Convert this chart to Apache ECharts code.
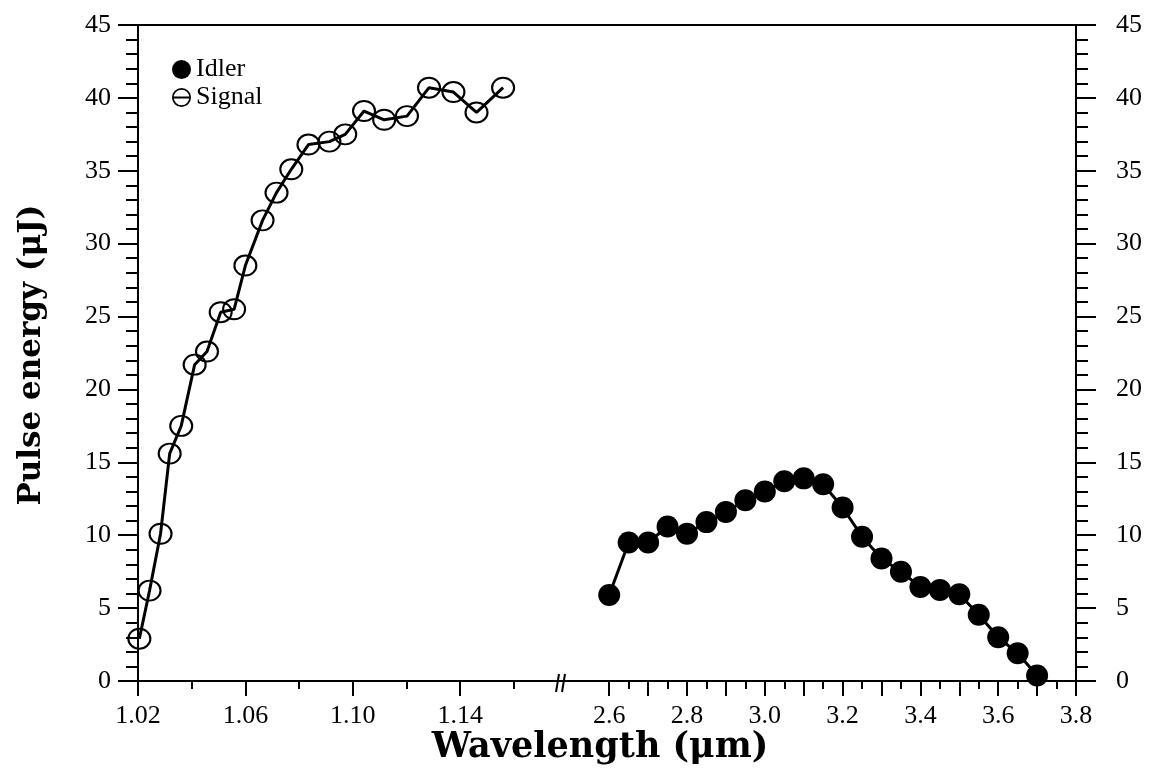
<!DOCTYPE html>
<html>
<head>
<meta charset="utf-8">
<script src="https://cdn.jsdelivr.net/npm/echarts@6/dist/echarts.min.js"></script>
<style>
html,body{margin:0;padding:0;background:#fff;}
#chart{width:1153px;height:776px;}
</style>
</head>
<body>
<div id="chart"></div>
<script>
// ---- data ----
const signalWavelength = [1.0205, 1.0243, 1.0284, 1.0318, 1.0361, 1.0411, 1.0457, 1.0508, 1.0558, 1.0600, 1.0664, 1.0716, 1.0771, 1.0835, 1.0913, 1.0972, 1.1042, 1.1117, 1.1202, 1.1284, 1.1375, 1.1461, 1.1560];
const signalEnergy     = [2.9, 6.2, 10.1, 15.6, 17.5, 21.7, 22.6, 25.3, 25.5, 28.5, 31.6, 33.5, 35.1, 36.8, 37.0, 37.5, 39.1, 38.5, 38.75, 40.7, 40.4, 39.0, 40.7];
const idlerWavelength  = [2.60, 2.65, 2.70, 2.75, 2.80, 2.85, 2.90, 2.95, 3.00, 3.05, 3.10, 3.15, 3.20, 3.25, 3.30, 3.35, 3.40, 3.45, 3.50, 3.55, 3.60, 3.65, 3.70];
const idlerEnergy      = [5.9, 9.5, 9.5, 10.6, 10.1, 10.9, 11.6, 12.4, 13.0, 13.7, 13.9, 13.5, 11.9, 9.9, 8.4, 7.5, 6.45, 6.25, 5.95, 4.55, 3.0, 1.9, 0.38];
const leftMajorTicks   = [1.02, 1.06, 1.10, 1.14];
const leftMinorTicks   = [1.04, 1.08, 1.12, 1.16];
const rightMajorTicks  = [2.6, 2.7, 2.8, 2.9, 3.0, 3.1, 3.2, 3.3, 3.4, 3.5, 3.6, 3.7, 3.8];
const rightMinorTicks  = [2.65, 2.75, 2.85, 2.95, 3.05, 3.15, 3.25, 3.35, 3.45, 3.55, 3.65, 3.75];
const rightLabels      = [2.6, 2.8, 3.0, 3.2, 3.4, 3.6, 3.8];
const xTitle = 'Wavelength (μm)';
const yTitle = 'Pulse energy (μJ)';

const FONT = 'Liberation Serif';
const BLACK = '#000';

const chart = echarts.init(document.getElementById('chart'), null, {renderer: 'canvas'});

function bottomAxis(grid, min, max, major, labels, digits) {
  return {
    gridIndex: grid, type: 'value', position: 'bottom', min: min, max: max,
    axisLine: {show: true, onZero: false, lineStyle: {color: BLACK, width: 2}},
    axisTick: {show: true, inside: false, length: 15, customValues: major, lineStyle: {color: BLACK, width: 2}},
    axisLabel: {show: true, customValues: labels, margin: 22, fontSize: 26, fontFamily: FONT, color: BLACK,
      formatter: v => Number(v).toFixed(digits)},
    splitLine: {show: false}
  };
}
function minorAxis(grid, min, max, minor) {
  return {
    gridIndex: grid, type: 'value', position: 'bottom', min: min, max: max,
    axisLine: {show: false, onZero: false},
    axisTick: {show: true, inside: false, length: 8, customValues: minor, lineStyle: {color: BLACK, width: 2}},
    axisLabel: {show: false},
    splitLine: {show: false}
  };
}
function topAxis(grid, min, max) {
  return {
    gridIndex: grid, type: 'value', position: 'top', min: min, max: max,
    axisLine: {show: true, onZero: false, lineStyle: {color: BLACK, width: 2}},
    axisTick: {show: false}, axisLabel: {show: false}, splitLine: {show: false}
  };
}
function yAxis(grid, pos, margin) {
  return {
    gridIndex: grid, type: 'value', position: pos, min: 0, max: 45, interval: 5,
    axisLine: {show: true, onZero: false, lineStyle: {color: BLACK, width: 2}},
    axisTick: {show: true, inside: false, length: 20, lineStyle: {color: BLACK, width: 2}},
    minorTick: {show: true, splitNumber: 5, length: 12, lineStyle: {color: BLACK, width: 2}},
    axisLabel: {show: true, margin: margin, fontSize: 26, fontFamily: FONT, color: BLACK},
    splitLine: {show: false}, minorSplitLine: {show: false}
  };
}

const gridTop = 25, gridHeight = 656;
const g1Left = 138, g1Width = 422;
const g2Left = 560, g2Width = 516;
const leftMin = 1.02, leftMax = 1.1772;
const rightMin = 2.4735, rightMax = 3.8;

const signalIcon = 'path://M10,0 A10,10 0 1,1 9.99,0 Z M10,1.8 A8.2,8.2 0 1,0 10.01,1.8 Z M1.5,9 L18.5,9 L18.5,11 L1.5,11 Z';

const option = {
  animation: false,
  backgroundColor: '#fff',
  grid: [
    {left: g1Left, top: gridTop, width: g1Width, height: gridHeight},
    {left: g2Left, top: gridTop, width: g2Width, height: gridHeight}
  ],
  xAxis: [
    bottomAxis(0, leftMin, leftMax, leftMajorTicks, leftMajorTicks, 2),
    minorAxis(0, leftMin, leftMax, leftMinorTicks),
    topAxis(0, leftMin, leftMax),
    bottomAxis(1, rightMin, rightMax, rightMajorTicks, rightLabels, 1),
    minorAxis(1, rightMin, rightMax, rightMinorTicks),
    topAxis(1, rightMin, rightMax)
  ],
  yAxis: [
    yAxis(0, 'left', 27),
    yAxis(1, 'right', 40)
  ],
  legend: {
    orient: 'vertical', left: 172, top: 56, padding: 0,
    itemWidth: 19, itemHeight: 19, itemGap: 1,
    textStyle: {fontSize: 26, fontFamily: FONT, color: BLACK, lineHeight: 27},
    data: [
      {name: 'Idler', icon: 'circle', itemStyle: {color: BLACK, borderWidth: 0}},
      {name: 'Signal', icon: signalIcon, itemStyle: {color: BLACK, borderWidth: 0}}
    ]
  },
  series: [
    {
      name: 'Idler', type: 'line', xAxisIndex: 3, yAxisIndex: 1,
      data: idlerWavelength.map((x, i) => [x, idlerEnergy[i]]),
      symbol: 'circle', symbolSize: 22,
      itemStyle: {color: BLACK},
      lineStyle: {color: BLACK, width: 3}
    },
    {
      name: 'Signal', type: 'line', xAxisIndex: 0, yAxisIndex: 0,
      data: signalWavelength.map((x, i) => [x, signalEnergy[i]]),
      symbol: 'circle', symbolSize: [22, 20],
      itemStyle: {color: 'rgba(255,255,255,0)', borderColor: BLACK, borderWidth: 2},
      lineStyle: {color: BLACK, width: 3}
    }
  ],
  graphic: [
    {type: 'line', shape: {x1: 556, y1: 692, x2: 559, y2: 674}, style: {stroke: BLACK, lineWidth: 2}},
    {type: 'line', shape: {x1: 562, y1: 692, x2: 565, y2: 674}, style: {stroke: BLACK, lineWidth: 2}},
    {type: 'text', x: 600, y: 748, style: {text: xTitle, font: 'bold 35px "DejaVu Serif"', fill: BLACK, align: 'center', verticalAlign: 'middle'}},
    {type: 'text', x: 32, y: 355, rotation: Math.PI / 2, style: {text: yTitle, font: 'bold 31px "DejaVu Serif"', fill: BLACK, align: 'center', verticalAlign: 'middle'}}
  ]
};
chart.setOption(option);
</script>
</body>
</html>
